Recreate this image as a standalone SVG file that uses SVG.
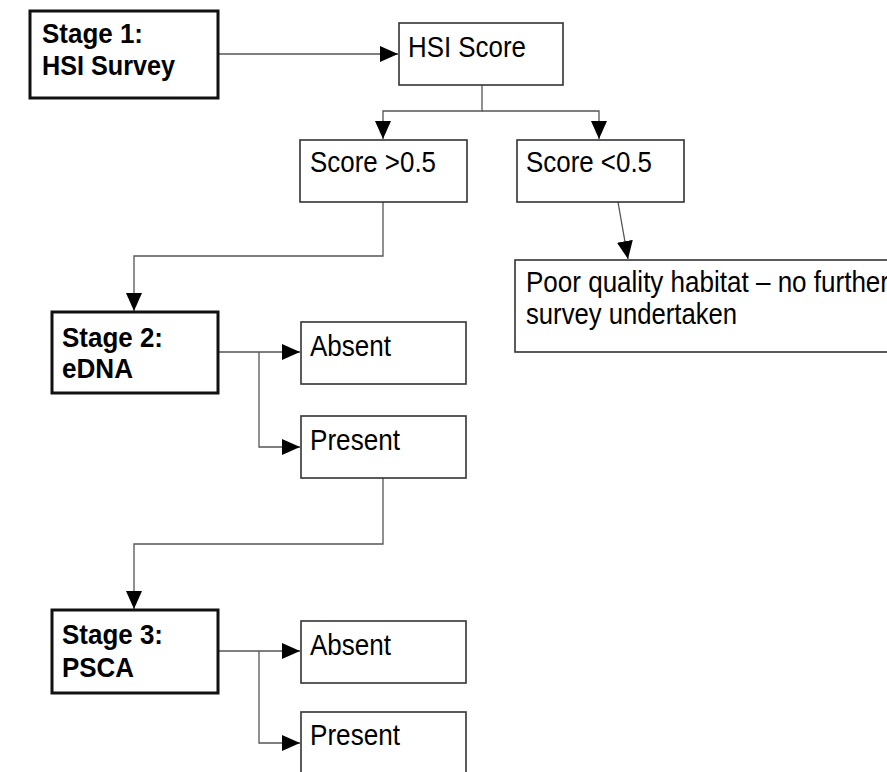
<svg xmlns="http://www.w3.org/2000/svg" width="887" height="772" viewBox="0 0 887 772">
<style>
.box{fill:#fff;stroke:#333;stroke-width:1.6}
.stage{fill:#fff;stroke:#111;stroke-width:3}
.t{font-family:"Liberation Sans Narrow","Arial Narrow","Liberation Sans",Arial,sans-serif;font-size:29px;fill:#000}
.b{font-weight:bold;font-size:28px}
.c{fill:none;stroke:#555;stroke-width:1.3}
</style>
<defs>
<marker id="ah" markerUnits="userSpaceOnUse" markerWidth="19" markerHeight="17" refX="18" refY="8" orient="auto">
<path d="M0,0 L18,8 L0,16 z" fill="#000"/>
</marker>
</defs>
<rect width="887" height="772" fill="#fff"/>
<g id="connectors">
<path class="c" d="M218,54 H398" marker-end="url(#ah)"/>
<path class="c" d="M482,85 V111 H383 V139" marker-end="url(#ah)"/>
<path class="c" d="M482,111 H599 V139" marker-end="url(#ah)"/>
<path class="c" d="M618,202 L628,259" marker-end="url(#ah)"/>
<path class="c" d="M383,202 V256 H134 V311" marker-end="url(#ah)"/>
<path class="c" d="M218,352 H300" marker-end="url(#ah)"/>
<path class="c" d="M259,352 V447 H300" marker-end="url(#ah)"/>
<path class="c" d="M383,478 V544 H134 V609" marker-end="url(#ah)"/>
<path class="c" d="M218,651 H300" marker-end="url(#ah)"/>
<path class="c" d="M259,651 V743 H300" marker-end="url(#ah)"/>
</g>
<g id="stage1">
<rect class="stage" x="30" y="11" width="188" height="87"/>
<text class="t b" x="42" y="43" textLength="101" lengthAdjust="spacingAndGlyphs">Stage 1:</text>
<text class="t b" x="42" y="75" textLength="133" lengthAdjust="spacingAndGlyphs">HSI Survey</text>
</g>
<g id="hsi-score">
<rect class="box" x="399" y="23" width="164" height="62"/>
<text class="t" x="408" y="57" textLength="118" lengthAdjust="spacingAndGlyphs">HSI Score</text>
</g>
<g id="score-high">
<rect class="box" x="300" y="140" width="167" height="62"/>
<text class="t" x="310" y="172" textLength="126" lengthAdjust="spacingAndGlyphs">Score &gt;0.5</text>
</g>
<g id="score-low">
<rect class="box" x="517" y="140" width="167" height="62"/>
<text class="t" x="526" y="172" textLength="126" lengthAdjust="spacingAndGlyphs">Score &lt;0.5</text>
</g>
<g id="poor-habitat">
<rect class="box" x="515" y="260" width="400" height="92"/>
<text class="t" x="526" y="292" textLength="363" lengthAdjust="spacingAndGlyphs">Poor quality habitat – no further</text>
<text class="t" x="526" y="324" textLength="211" lengthAdjust="spacingAndGlyphs">survey undertaken</text>
</g>
<g id="stage2">
<rect class="stage" x="52" y="312" width="166" height="81"/>
<text class="t b" x="62" y="347" textLength="101" lengthAdjust="spacingAndGlyphs">Stage 2:</text>
<text class="t b" x="62" y="378" textLength="71" lengthAdjust="spacingAndGlyphs">eDNA</text>
</g>
<g id="absent2">
<rect class="box" x="301" y="322" width="165" height="62"/>
<text class="t" x="310" y="356" textLength="81" lengthAdjust="spacingAndGlyphs">Absent</text>
</g>
<g id="present2">
<rect class="box" x="301" y="416" width="165" height="62"/>
<text class="t" x="310" y="450" textLength="90" lengthAdjust="spacingAndGlyphs">Present</text>
</g>
<g id="stage3">
<rect class="stage" x="52" y="610" width="166" height="83"/>
<text class="t b" x="62" y="644" textLength="101" lengthAdjust="spacingAndGlyphs">Stage 3:</text>
<text class="t b" x="62" y="677" textLength="72" lengthAdjust="spacingAndGlyphs">PSCA</text>
</g>
<g id="absent3">
<rect class="box" x="301" y="621" width="165" height="62"/>
<text class="t" x="310" y="655" textLength="81" lengthAdjust="spacingAndGlyphs">Absent</text>
</g>
<g id="present3">
<rect class="box" x="301" y="712" width="165" height="80"/>
<text class="t" x="310" y="745" textLength="90" lengthAdjust="spacingAndGlyphs">Present</text>
</g>
</svg>
